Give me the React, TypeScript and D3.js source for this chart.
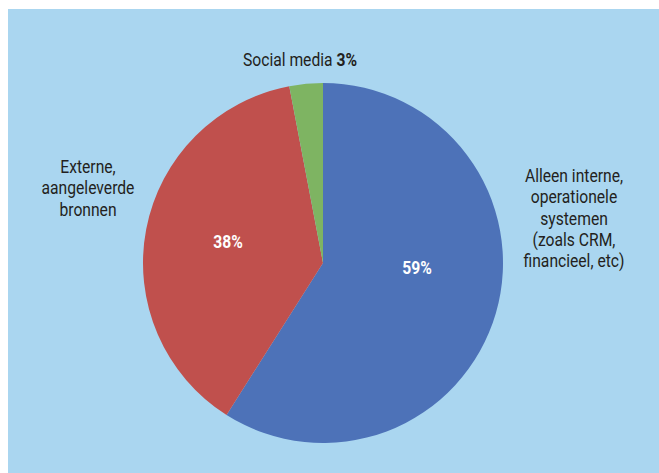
import React from "react";
import * as d3 from "d3";

const categories = [
  "Alleen interne, operationele systemen (zoals CRM, financieel, etc)",
  "Externe, aangeleverde bronnen",
  "Social media",
];
const values = [59, 38, 3];
const colors = ["#4d72b8", "#c0504d", "#7eb462"];
const rightLabelLines = ["Alleen interne,", "operationele", "systemen", "(zoals CRM,", "financieel, etc)"];
const leftLabelLines = ["Externe,", "aangeleverde", "bronnen"];
const topLabel = "Social media";

const W = 659;
const H = 473;
const FONT = "Roboto, 'Liberation Sans', sans-serif";
const SX = 0.87;

// value label anchor positions relative to pie centre (layout)
const valueLabelPos: [number, number][] = [
  [94, 5],
  [-95, -21],
];

export default function App() {
  const cx = 323;
  const cy = 263;
  const r = 180;
  const pie = d3.pie<number>().sort(null).value((d) => d);
  const arcs = pie(values);
  const arc = d3.arc<d3.PieArcDatum<number>>().innerRadius(0).outerRadius(r);
  const textColor = "#231f20";
  return (
    <svg
      width={W}
      height={H}
      style={{ position: "absolute", left: 0, top: 0 }}
      fontFamily={FONT}
    >
      <rect x={8} y={9} width={W - 8} height={H - 9} fill="#aad6f0" />
      <g transform={`translate(${cx},${cy})`}>
        {arcs.map((a, i) => (
          <path key={categories[i]} d={arc(a) || ""} fill={colors[i]} />
        ))}
        {valueLabelPos.map(([x, y], i) => (
          <g key={"v" + i} transform={`translate(${x},${y}) scale(${SX},1)`}>
            <text
              dy="0.35em"
              textAnchor="middle"
              fill="#ffffff"
              fontWeight="bold"
              fontSize={18}
            >
              {values[i]}%
            </text>
          </g>
        ))}
      </g>
      <g transform={`translate(300,66) scale(${SX},1)`}>
        <text textAnchor="middle" fontSize={18} fill={textColor}>
          {topLabel} <tspan fontWeight="bold">{values[2]}%</tspan>
        </text>
      </g>
      <g transform={`translate(88,173) scale(${SX},1)`}>
        <text textAnchor="middle" fontSize={18} fill={textColor}>
          {leftLabelLines.map((l, i) => (
            <tspan key={l} x={0} y={i * 21.5}>
              {l}
            </tspan>
          ))}
        </text>
      </g>
      <g transform={`translate(574,182) scale(${SX},1)`}>
        <text textAnchor="middle" fontSize={18} fill={textColor}>
          {rightLabelLines.map((l, i) => (
            <tspan key={l} x={0} y={i * 21.3}>
              {l}
            </tspan>
          ))}
        </text>
      </g>
    </svg>
  );
}
